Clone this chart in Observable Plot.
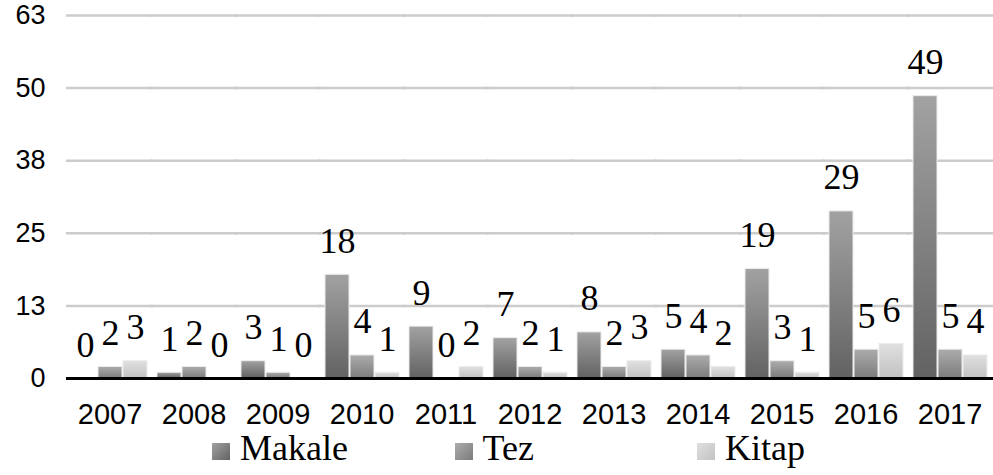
<!DOCTYPE html>
<html><head><meta charset="utf-8">
<script src="https://cdn.jsdelivr.net/npm/d3@7"></script>
<script src="https://cdn.jsdelivr.net/npm/@observablehq/plot@0.6"></script>
<style>
body{margin:0;background:#fff;}
#chart svg{display:block;}
#legend{position:relative;width:993px;height:43px;font-family:"Liberation Serif","Noto Serif",serif;font-size:36px;line-height:36px;color:#000;}
.item{position:absolute;top:-2px;white-space:nowrap;}
.sw{position:absolute;width:18px;height:17px;}
</style></head><body>
<div id="chart"></div>
<div id="legend"></div>
<script>
const years = ["2007","2008","2009","2010","2011","2012","2013","2014","2015","2016","2017"];
const series = ["Makale","Tez","Kitap"];
const makale = [0,1,3,18,9,7,8,5,19,29,49];
const tez = [2,2,1,4,0,2,2,4,3,5,5];
const kitap = [3,0,0,1,2,1,3,2,1,6,4];
const yTicks = [0,12.6,25.2,37.8,50.4,63];
const yTickLabels = ["0","13","25","38","50","63"];

const gradients = {
  Makale: ["#a2a2a2","#626262"],
  Tez: ["#acacac","#7c7c7c"],
  Kitap: ["#e0e0e0","#c2c2c2"]
};
const serifFont = "Liberation Serif, Noto Serif, serif";

const valuesBySeries = {Makale: makale, Tez: tez, Kitap: kitap};
const data = [];
years.forEach((y, i) => series.forEach(s => data.push({year: y, series: s, value: valuesBySeries[s][i]})));

const chart = Plot.plot({
  width: 993,
  height: 432,
  marginLeft: 65,
  marginRight: 0,
  marginTop: 15,
  marginBottom: 54,
  style: {fontFamily: "Liberation Sans, Arial, sans-serif", fontSize: "27px", color: "#000", background: "#fff"},
  fx: {domain: years, paddingInner: 0.11, paddingOuter: 0.065, label: null},
  x: {domain: series, paddingInner: 0.06, paddingOuter: 0, axis: null},
  y: {domain: [0, 63], label: null, axis: null},
  marks: [
    Plot.axisY({ticks: yTicks, tickFormat: d => yTickLabels[yTicks.indexOf(d)], tickSize: 0, tickPadding: 27, label: null, fontSize: 27}),
    Plot.axisFx({anchor: "bottom", tickSize: 0, tickPadding: 25, label: null, fontSize: 29}),
    Plot.ruleY(yTicks.slice(1), {stroke: "#cccccc", strokeWidth: 2.5, insetLeft: -6, insetRight: -6}),
    Plot.barY(data, {fx: "year", x: "series", y: "value", fill: d => `url(#g${d.series})`, stroke: "#ececec", strokeWidth: 1}),
    Plot.text(data, {fx: "year", x: "series", y: "value", text: d => String(d.value), dy: -22, lineAnchor: "bottom", fontSize: 36, fontFamily: serifFont, fill: "#000"}),
    Plot.ruleY([0], {stroke: "#000", strokeWidth: 3, insetLeft: -6, insetRight: -6})
  ]
});

const svg = chart.tagName.toLowerCase() === "svg" ? chart : chart.querySelector("svg");
const ns = "http://www.w3.org/2000/svg";
const defs = document.createElementNS(ns, "defs");
for (const s of series) {
  const g = document.createElementNS(ns, "linearGradient");
  g.setAttribute("id", "g" + s);
  g.setAttribute("x1", "0"); g.setAttribute("y1", "0");
  g.setAttribute("x2", "0"); g.setAttribute("y2", "1");
  gradients[s].forEach((c, k) => {
    const st = document.createElementNS(ns, "stop");
    st.setAttribute("offset", String(k));
    st.setAttribute("stop-color", c);
    g.appendChild(st);
  });
  defs.appendChild(g);
}
svg.insertBefore(defs, svg.firstChild);
document.getElementById("chart").appendChild(chart);

const legend = document.getElementById("legend");
const legendLeft = 212, legendStep = 242.5;
series.forEach((s, i) => {
  const item = document.createElement("div");
  item.className = "item";
  item.style.left = (legendLeft + i * legendStep) + "px";
  const sw = document.createElement("div");
  sw.className = "sw";
  sw.style.left = "0px";
  sw.style.top = "13px";
  sw.style.background = `linear-gradient(135deg, ${gradients[s][0]}, ${gradients[s][1]})`;
  const tx = document.createElement("span");
  tx.textContent = s;
  tx.style.marginLeft = "28px";
  item.appendChild(sw);
  item.appendChild(tx);
  legend.appendChild(item);
});
</script>
</body></html>
